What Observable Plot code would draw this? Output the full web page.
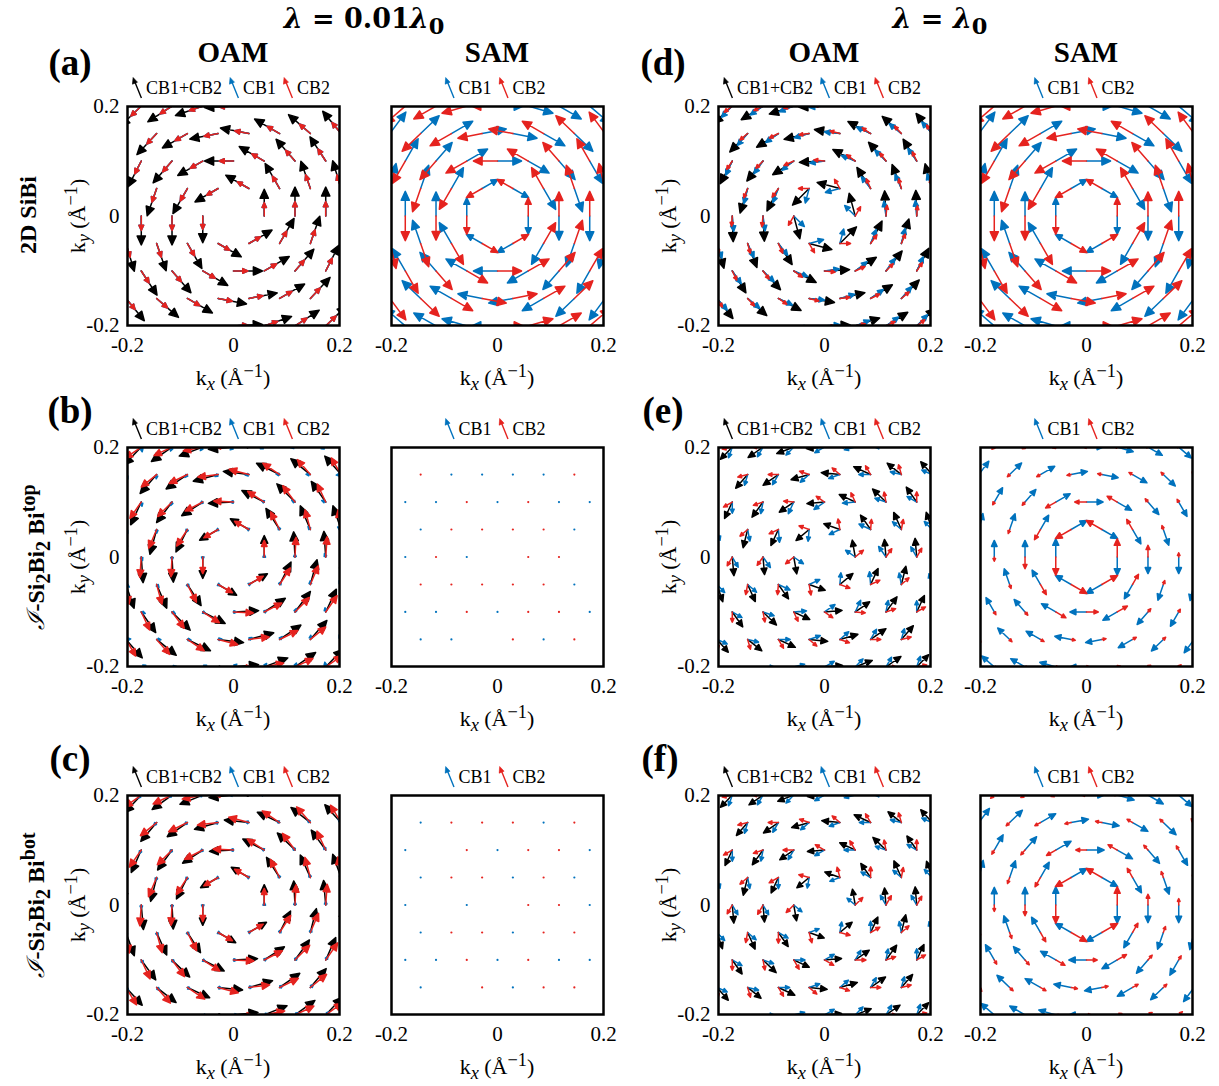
<!DOCTYPE html>
<html>
<head>
<meta charset="utf-8">
<script src="https://cdn.jsdelivr.net/npm/d3@7"></script>
<script src="https://cdn.jsdelivr.net/npm/@observablehq/plot@0.6"></script>
<style>
  body { margin: 0; background: #fff; }
  #fig { position: relative; width: 1219px; height: 1086px; overflow: hidden; background: #fff;
         font-family: "Liberation Serif", "Times New Roman", serif; color: #000; }
  .t { position: absolute; white-space: nowrap; line-height: 1; transform: translate(-50%, -50%); }
  .rot { transform: translate(-50%, -50%) rotate(-90deg); }
  .pan { position: absolute; }
  sub, sup { line-height: 0; }
  .leg { font-size: 18px; display: flex; align-items: center; }
  .leg svg { margin: 0 3px 0 7px; }
  .leg svg:first-child { margin-left: 0; }
</style>
</head>
<body>
<div id="fig"></div>
<script>
// ---------------- data ----------------
// k-point lattice (triangular grid, Å^-1) read from the dot grid of the SAM panels
const latticeA = 0.058;
const rowsY = [-0.2008, -0.1506, -0.1004, -0.0502, 0, 0.0502, 0.1004, 0.1506, 0.2008];
const colsEven = [-0.232, -0.174, -0.116, -0.058, 0, 0.058, 0.116, 0.174, 0.232];
const colsOdd = [-0.203, -0.145, -0.087, -0.029, 0.029, 0.087, 0.145, 0.203];
const ticks = [-0.2, 0, 0.2];
const rings = [1, 2, 3, 4, 5];   // shells around Γ

// Arrow length (Å^-1) and rotation (deg, relative to counter-clockwise tangent) per shell
// (a) 2D SiBi, λ = 0.01λ0
const A_OAM_SUM_LEN = [0.050, 0.054, 0.054, 0.054, 0.054], A_OAM_SUM_ROT = [0, 0, 0, 3, 3];
const A_OAM_CB1_LEN = [0.025, 0.027, 0.027, 0.027, 0.027], A_OAM_CB1_ROT = [0, 0, 0, 3, 3];
const A_OAM_CB2_LEN = [0.025, 0.027, 0.027, 0.027, 0.027], A_OAM_CB2_ROT = [0, 0, 0, 3, 3];
const A_SAM_CB1_LEN = [0.034, 0.045, 0.046, 0.048, 0.050], A_SAM_CB1_ROT = [180, 180, 180, 180, 180];
const A_SAM_CB2_LEN = [0.034, 0.045, 0.046, 0.048, 0.050], A_SAM_CB2_ROT = [0, 0, 0, 0, 0];
// (b) I-Si2Bi2 Bi top, λ = 0.01λ0
const B_OAM_SUM_LEN = [0.040, 0.047, 0.048, 0.047, 0.046], B_OAM_SUM_ROT = [0, 3, 4, 5, 5];
const B_OAM_CB1_LEN = [0.005, 0.006, 0.007, 0.008, 0.009], B_OAM_CB1_ROT = [0, 0, 20, 40, 60];
const B_OAM_CB2_LEN = [0.031, 0.037, 0.038, 0.037, 0.036], B_OAM_CB2_ROT = [0, -3, -4, -5, -6];
const B_SAM_DOTS = ["rbbbbr", "bbrbrbb", "brrrrb", "brb.rr.", "rrrrrb", "bbrbrrb", "bb.rbr"]; // rows y=0.15 … -0.15
// (c) I-Si2Bi2 Bi bot, λ = 0.01λ0
const C_OAM_SUM_LEN = [0.038, 0.045, 0.046, 0.046, 0.045], C_OAM_SUM_ROT = [0, 3, 5, 6, 6];
const C_OAM_CB1_LEN = [0.005, 0.006, 0.007, 0.008, 0.009], C_OAM_CB1_ROT = [0, 0, 0, 0, 0];
const C_OAM_CB2_LEN = [0.031, 0.038, 0.039, 0.039, 0.038], C_OAM_CB2_ROT = [0, -3, -4, -5, -5];
const C_SAM_DOTS = ["brrrbr", "b.rbrrb", "brrbrb", "b.b.rrb", "brrbrr", "bbrbrbb", "b.rbrr"];
// (d) 2D SiBi, λ = λ0
const D_OAM_SUM_LEN = [0.044, 0.047, 0.048, 0.048, 0.048], D_OAM_SUM_ROT = [15, 3, 2, 2, 2];
const D_OAM_CB1_LEN = [0.028, 0.028, 0.029, 0.029, 0.029], D_OAM_CB1_ROT = [45, 8, 5, 5, 5];
const D_OAM_CB2_LEN = [0.020, 0.020, 0.019, 0.019, 0.019], D_OAM_CB2_ROT = [-30, -6, -4, -4, -4];
const D_SAM_CB1_LEN = [0.034, 0.045, 0.046, 0.048, 0.050], D_SAM_CB1_ROT = [180, 180, 180, 180, 180];
const D_SAM_CB2_LEN = [0.034, 0.045, 0.046, 0.048, 0.050], D_SAM_CB2_ROT = [0, 0, 0, 0, 0];
// (e) I-Si2Bi2 Bi top, λ = λ0
const E_OAM_SUM_LEN = [0.032, 0.033, 0.035, 0.034, 0.032], E_OAM_SUM_ROT = [10, 5, 5, 5, 5];
const E_OAM_CB1_LEN = [0.022, 0.024, 0.022, 0.021, 0.021], E_OAM_CB1_ROT = [55, 35, 30, 30, 30];
const E_OAM_CB2_LEN = [0.020, 0.019, 0.019, 0.019, 0.019], E_OAM_CB2_ROT = [-50, -35, -30, -30, -30];
const E_SAM_CB1_LEN = [0.034, 0.031, 0.031, 0.031, 0.031], E_SAM_CB1_ROT = [180, 180, 180, 180, 180];
const E_SAM_CB2_LEN = [0.034, 0.022, 0.008, 0.006, 0.006], E_SAM_CB2_ROT = [0, 0, 0, 0, 0];
// (f) I-Si2Bi2 Bi bot, λ = λ0
const F_OAM_SUM_LEN = [0.030, 0.032, 0.034, 0.032, 0.032], F_OAM_SUM_ROT = [10, 5, 5, 5, 5];
const F_OAM_CB1_LEN = [0.020, 0.021, 0.021, 0.021, 0.021], F_OAM_CB1_ROT = [50, 30, 30, 30, 30];
const F_OAM_CB2_LEN = [0.020, 0.020, 0.019, 0.019, 0.019], F_OAM_CB2_ROT = [-45, -30, -30, -30, -30];
const F_SAM_CB1_LEN = [0.034, 0.033, 0.033, 0.033, 0.033], F_SAM_CB1_ROT = [180, 180, 180, 180, 180];
const F_SAM_CB2_LEN = [0.034, 0.020, 0.012, 0.009, 0.009], F_SAM_CB2_ROT = [0, 0, 0, 0, 0];

const seriesLabels = { sum: "CB1+CB2", cb1: "CB1", cb2: "CB2" };
const colors = { sum: "#000000", cb1: "#0072BD", cb2: "#E5231F" };

// ---------------- layout ----------------
const fig = document.getElementById("fig");
const FW = 212, FH = 219;             // frame size in px
const ML = 55, MR = 18, MT = 5, MB = 38;
const PPU = 535;                       // px per Å^-1 for arrow lengths

// lattice points
const pts = [];
rowsY.forEach((y, j) => {
  const cols = j % 2 === 0 ? colsEven : colsOdd;
  cols.forEach(x => {
    const d2 = Math.round((x * x + y * y) / (latticeA * latticeA));
    if (d2 === 0) return;
    const ring = d2 <= 1 ? 1 : d2 <= 4 ? 2 : d2 <= 9 ? 3 : d2 <= 16 ? 4 : 5;
    pts.push({ x, y, ring, phi: Math.atan2(y, x) * 180 / Math.PI });
  });
});

const arrowShape = {
  draw(ctx, l) {
    if (l <= 0) return;
    const h = Math.max(2.8, Math.min(9, l * 0.36));
    const w = h * 0.46;
    ctx.moveTo(0, 0);
    ctx.lineTo(0, -l + h * 0.6);
    ctx.moveTo(0, -l);
    ctx.lineTo(-w, -l + h);
    ctx.lineTo(w, -l + h);
    ctx.closePath();
  }
};

const fmt = d => d === 0 ? "0" : (d < 0 ? "-" : "") + Math.abs(d).toFixed(1);

function addText(html, x, y, style = "", cls = "t") {
  const d = document.createElement("div");
  d.className = cls;
  d.style.cssText = `left:${x}px;top:${y}px;${style}`;
  d.innerHTML = html;
  fig.appendChild(d);
  return d;
}

function legendArrow(color) {
  return `<svg width="11" height="22" viewBox="0 0 11 22"><line x1="9.5" y1="21" x2="3" y2="5" stroke="${color}" stroke-width="1.4"/><path d="M1.2,0.5 L0.5,7.2 L5.6,5.2 Z" fill="${color}" stroke="${color}" stroke-width="0.6"/></svg>`;
}
function legend(keys, cx, cy) {
  const html = keys.map(k => `${legendArrow(colors[k])}<span>${seriesLabels[k]}</span>`).join("");
  addText(html, cx, cy, "", "t leg");
}

function panel(p) {
  const marks = [];
  if (p.series) {
    for (const [key, lens, rots] of p.series) {
      const data = pts.map(q => ({
        x: q.x, y: q.y,
        len: lens[rings.indexOf(q.ring)],
        ang: q.phi + 90 + rots[rings.indexOf(q.ring)]
      }));
      marks.push(Plot.vector(data, {
        x: "x", y: "y", length: "len", rotate: d => 90 - d.ang, anchor: "start",
        shape: arrowShape, stroke: colors[key], fill: colors[key], strokeWidth: 1.5, clip: true
      }));
    }
  }
  if (p.dots) {
    const dd = [];
    const inner = rowsY.slice(1, -1).reverse();   // y = 0.15 … -0.15
    inner.forEach((y, i) => {
      const row = p.dots[i];
      const cols = (rowsY.indexOf(y) % 2 === 0 ? colsEven : colsOdd).filter(x => Math.abs(x) < 0.19);
      cols.forEach((x, k) => {
        const c = row[k];
        if (c === "b" || c === "r") dd.push({ x, y, c: c === "b" ? colors.cb1 : colors.cb2 });
      });
    });
    marks.push(Plot.dot(dd, { x: "x", y: "y", r: 1.1, fill: "c", stroke: null }));
  }
  marks.push(Plot.frame({ stroke: "#000", strokeWidth: 2.5 }));
  const chart = Plot.plot({
    width: ML + FW + MR, height: MT + FH + MB,
    marginLeft: ML, marginRight: MR, marginTop: MT, marginBottom: MB,
    style: { fontFamily: "Liberation Serif, Times New Roman, serif", fontSize: "21px", background: "transparent", overflow: "visible", color: "#000" },
    x: { domain: [-0.2, 0.2], ticks, tickFormat: fmt, tickSize: 0, tickPadding: 12, label: null },
    y: p.yAxis ? { domain: [-0.2, 0.2], ticks, tickFormat: fmt, tickSize: 0, tickPadding: 8, label: null }
               : { domain: [-0.2, 0.2], axis: null },
    length: { type: "linear", domain: [0, 0.1], range: [0, 0.1 * PPU] },
    marks
  });
  const wrap = document.createElement("div");
  wrap.className = "pan";
  wrap.style.left = (p.left - ML) + "px";
  wrap.style.top = (p.top - MT) + "px";
  wrap.appendChild(chart);
  fig.appendChild(wrap);

  // axis labels
  const cx = p.left + FW / 2;
  addText(`k<sub><i>x</i></sub> (Å<sup>−1</sup>)`, cx, p.top + FH + 53, "font-size:22px;");
  if (p.yAxis) addText(`k<sub><i>y</i></sub> (Å<sup>−1</sup>)`, p.left - 49, p.top + FH / 2, "font-size:22px;", "t rot");
  legend(p.yAxis ? ["sum", "cb1", "cb2"] : ["cb1", "cb2"], cx - 2, p.top - 18);
}

const colLeft = [127, 391, 718, 980];
const rowTop = [106, 447, 795];

const specs = [
  { left: colLeft[0], top: rowTop[0], yAxis: true, series: [["sum", A_OAM_SUM_LEN, A_OAM_SUM_ROT], ["cb1", A_OAM_CB1_LEN, A_OAM_CB1_ROT], ["cb2", A_OAM_CB2_LEN, A_OAM_CB2_ROT]] },
  { left: colLeft[1], top: rowTop[0], yAxis: false, series: [["cb1", A_SAM_CB1_LEN, A_SAM_CB1_ROT], ["cb2", A_SAM_CB2_LEN, A_SAM_CB2_ROT]] },
  { left: colLeft[2], top: rowTop[0], yAxis: true, series: [["sum", D_OAM_SUM_LEN, D_OAM_SUM_ROT], ["cb1", D_OAM_CB1_LEN, D_OAM_CB1_ROT], ["cb2", D_OAM_CB2_LEN, D_OAM_CB2_ROT]] },
  { left: colLeft[3], top: rowTop[0], yAxis: false, series: [["cb1", D_SAM_CB1_LEN, D_SAM_CB1_ROT], ["cb2", D_SAM_CB2_LEN, D_SAM_CB2_ROT]] },
  { left: colLeft[0], top: rowTop[1], yAxis: true, series: [["sum", B_OAM_SUM_LEN, B_OAM_SUM_ROT], ["cb1", B_OAM_CB1_LEN, B_OAM_CB1_ROT], ["cb2", B_OAM_CB2_LEN, B_OAM_CB2_ROT]] },
  { left: colLeft[1], top: rowTop[1], yAxis: false, dots: B_SAM_DOTS },
  { left: colLeft[2], top: rowTop[1], yAxis: true, series: [["sum", E_OAM_SUM_LEN, E_OAM_SUM_ROT], ["cb1", E_OAM_CB1_LEN, E_OAM_CB1_ROT], ["cb2", E_OAM_CB2_LEN, E_OAM_CB2_ROT]] },
  { left: colLeft[3], top: rowTop[1], yAxis: false, series: [["cb1", E_SAM_CB1_LEN, E_SAM_CB1_ROT], ["cb2", E_SAM_CB2_LEN, E_SAM_CB2_ROT]] },
  { left: colLeft[0], top: rowTop[2], yAxis: true, series: [["sum", C_OAM_SUM_LEN, C_OAM_SUM_ROT], ["cb1", C_OAM_CB1_LEN, C_OAM_CB1_ROT], ["cb2", C_OAM_CB2_LEN, C_OAM_CB2_ROT]] },
  { left: colLeft[1], top: rowTop[2], yAxis: false, dots: C_SAM_DOTS },
  { left: colLeft[2], top: rowTop[2], yAxis: true, series: [["sum", F_OAM_SUM_LEN, F_OAM_SUM_ROT], ["cb1", F_OAM_CB1_LEN, F_OAM_CB1_ROT], ["cb2", F_OAM_CB2_LEN, F_OAM_CB2_ROT]] },
  { left: colLeft[3], top: rowTop[2], yAxis: false, series: [["cb1", F_SAM_CB1_LEN, F_SAM_CB1_ROT], ["cb2", F_SAM_CB2_LEN, F_SAM_CB2_ROT]] }
];
specs.forEach(panel);

// titles and headers
addText(`<b><i>λ</i> = 0.01<i>λ</i><sub>0</sub></b>`, 364, 18, "font-size:27px;font-family:'DejaVu Serif',serif;");
addText(`<b><i>λ</i> = <i>λ</i><sub>0</sub></b>`, 940, 18, "font-size:27px;font-family:'DejaVu Serif',serif;");
["OAM", "SAM", "OAM", "SAM"].forEach((s, i) => addText(`<b>${s}</b>`, colLeft[i] + FW / 2, 52, "font-size:29px;"));
const letters = [["(a)", 70, 62], ["(d)", 663, 62], ["(b)", 70, 410], ["(e)", 663, 410], ["(c)", 70, 758], ["(f)", 660, 758]];
letters.forEach(([s, x, y]) => addText(`<b>${s}</b>`, x, y, "font-size:37px;"));
addText(`<b>2D SiBi</b>`, 28, 215, "font-size:24px;", "t rot");
addText(`<b><i style="font-family:'DejaVu Serif',serif;font-weight:normal">ℐ</i>-Si<sub>2</sub>Bi<sub>2</sub> Bi<sup>top</sup></b>`, 36, 557, "font-size:24px;", "t rot");
addText(`<b><i style="font-family:'DejaVu Serif',serif;font-weight:normal">ℐ</i>-Si<sub>2</sub>Bi<sub>2</sub> Bi<sup>bot</sup></b>`, 36, 905, "font-size:24px;", "t rot");
</script>
</body>
</html>
